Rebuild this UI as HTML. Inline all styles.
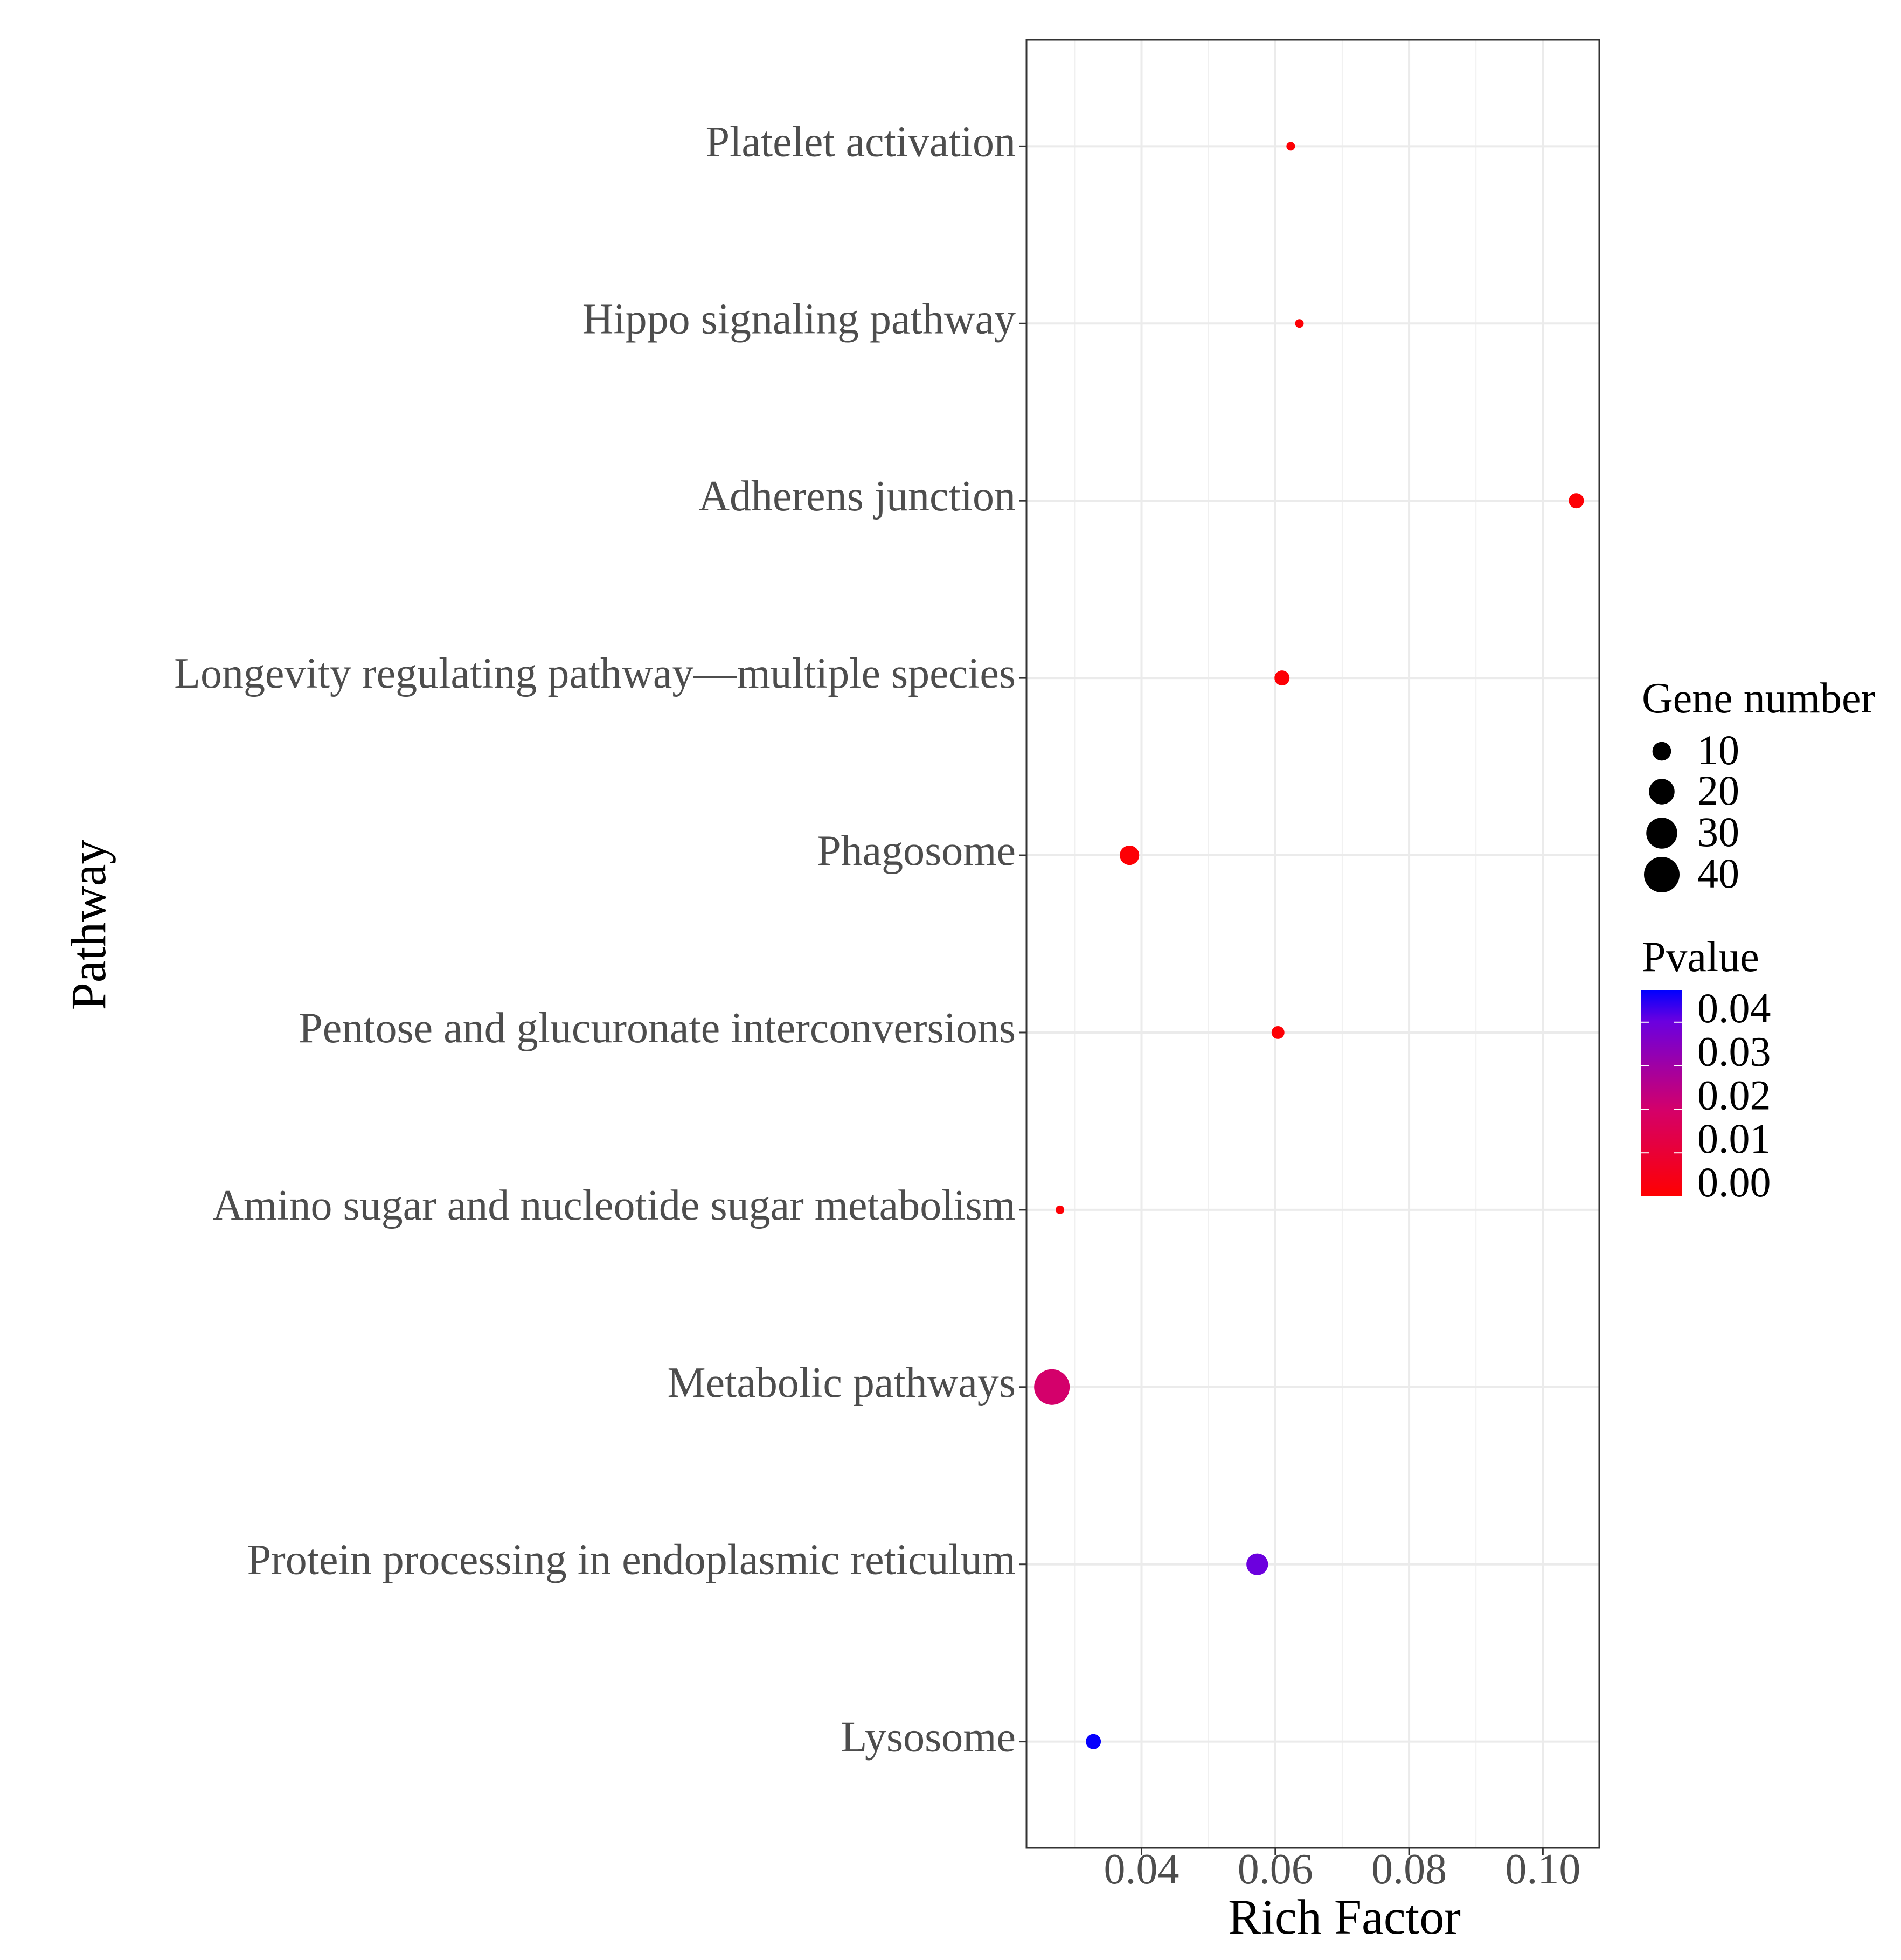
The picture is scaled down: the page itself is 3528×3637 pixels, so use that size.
<!DOCTYPE html>
<html><head><meta charset="utf-8"><style>
html,body{margin:0;padding:0;background:#fff;}
svg{display:block;font-family:"Liberation Serif",serif;}
</style></head><body>
<svg id="chart" width="3528" height="3637" viewBox="0 0 3528 3637" xmlns="http://www.w3.org/2000/svg">
<rect width="3528" height="3637" fill="#fff"/>
<g id="grid"></g>
<g id="ylabels"></g>
<g id="xlabels"></g>
<g id="points"></g>
<rect x="1905" y="74" width="1063" height="3355" fill="none" stroke="#333" stroke-width="3"/>
<text x="2495" y="3588" font-size="92" text-anchor="middle" fill="#000">Rich Factor</text>
<text transform="translate(195,1716) rotate(-90)" font-size="92" text-anchor="middle" fill="#000">Pathway</text>
<g id="legend">
<text x="3047" y="1322" font-size="80" fill="#000">Gene number</text>
<text x="3047" y="1802" font-size="80" fill="#000">Pvalue</text>
<defs><linearGradient id="pg" x1="0" y1="1" x2="0" y2="0">
<stop offset="0" stop-color="#ff0000"/><stop offset="0.42" stop-color="#d4006a"/><stop offset="0.85" stop-color="#6a00e0"/><stop offset="1" stop-color="#0000ff"/>
</linearGradient></defs>
<rect x="3046" y="1837" width="76" height="383" fill="url(#pg)"/>
</g>
</svg>
<script>
const categories = ["Lysosome","Protein processing in endoplasmic reticulum","Metabolic pathways","Amino sugar and nucleotide sugar metabolism","Pentose and glucuronate interconversions","Phagosome","Longevity regulating pathway\u2014multiple species","Adherens junction","Hippo signaling pathway","Platelet activation"];
const richFactor = [0.0328,0.0573,0.0266,0.0278,0.0604,0.0382,0.0610,0.1050,0.0636,0.0623];
const geneNumber = [6,14,40,1,4,11,6,6,1,1];
const pvalue = [0.047,0.040,0.020,0.001,0.001,0.001,0.001,0.001,0.001,0.001];
const xTicks = [0.04,0.06,0.08,0.10];
const xTickLabels = ["0.04","0.06","0.08","0.10"];
const sizeBreaks = [10,20,30,40];
const colorBreaks = [0.00,0.01,0.02,0.03,0.04];
const colorBreakLabels = ["0.00","0.01","0.02","0.03","0.04"];

const NS="http://www.w3.org/2000/svg";
const PL=1905, PR=2968, PT=74, PB=3429;
const xMin=0.0228, xMax=0.10843;
const pMin=0, pMax=0.0474;
function xs(v){return PL+(v-xMin)/(xMax-xMin)*(PR-PL);}
function yRow(i){const n=categories.length;return PT+((n-1+0.6)-i)/(n+0.2)*(PB-PT);}
function rs(n){return Math.sqrt(64+26.3*(n-1));}
function lerp(a,b,t){return Math.round(a+(b-a)*t);}
const stops=[[0,[255,0,0]],[0.42,[212,0,106]],[0.85,[106,0,224]],[1,[0,0,255]]];
function cs(p){let t=(p-pMin)/(pMax-pMin);t=Math.max(0,Math.min(1,t));
 for(let k=0;k<stops.length-1;k++){const a=stops[k],b=stops[k+1];if(t<=b[0]){const u=(t-a[0])/(b[0]-a[0]);return `rgb(${lerp(a[1][0],b[1][0],u)},${lerp(a[1][1],b[1][1],u)},${lerp(a[1][2],b[1][2],u)})`;}}
 return "rgb(0,0,255)";}
function mk(tag,attrs,parent){const e=document.createElementNS(NS,tag);for(const k in attrs)e.setAttribute(k,attrs[k]);parent.appendChild(e);return e;}

const grid=document.getElementById('grid');
for(let k=0;k<xTicks.length+1;k++){
 const v=xTicks[0]-0.01+k*0.02;
 if(v>xMin&&v<xMax){const l=mk('line',{x1:xs(v),x2:xs(v),y1:PT,y2:PB,stroke:'#f0f0f0','stroke-width':2},grid);
 
 }
}
const xl=document.getElementById('xlabels');
xTicks.forEach((v,k)=>{
 const l=mk('line',{x1:xs(v),x2:xs(v),y1:PT,y2:PB,stroke:'#ebebeb','stroke-width':4},grid);
 
 
 const t=mk('line',{x1:xs(v),x2:xs(v),y1:PB,y2:PB+14,stroke:'#333','stroke-width':3},xl);
 
 
 const tx=mk('text',{x:xs(v),y:PB+66,'font-size':80,'text-anchor':'middle',fill:'#4d4d4d'},xl);
 tx.textContent=xTickLabels[k];
 
 
});
const yl=document.getElementById('ylabels');
categories.forEach((c,i)=>{
 const y=yRow(i);
 const l=mk('line',{x1:PL,x2:PR,y1:y,y2:y,stroke:'#ebebeb','stroke-width':4},grid);
 
 
 const t=mk('line',{x1:PL-14,x2:PL,y1:y,y2:y,stroke:'#333','stroke-width':3},yl);
 
 
 const tx=mk('text',{x:PL-20,y:y+18,'font-size':80,'text-anchor':'end',fill:'#4d4d4d'},yl);
 tx.textContent=c;
 
 
});
const pts=document.getElementById('points');
categories.forEach((c,i)=>{
 const d=mk('circle',{cx:xs(richFactor[i]),cy:yRow(i),r:rs(geneNumber[i]),fill:cs(pvalue[i])},pts);
 
 
});
const lg=document.getElementById('legend');
const sizeY=[1394,1469,1546,1623];
sizeBreaks.forEach((n,k)=>{
 const d=mk('circle',{cx:3084,cy:sizeY[k],r:rs(n),fill:'#000'},lg);
 
 
 const t=mk('text',{x:3150,y:sizeY[k]+24,'font-size':78,fill:'#000'},lg);
 t.textContent=String(n);
 
 
});
function cy(p){return 2220-(p-pMin)/(pMax-pMin)*383;}
colorBreaks.forEach((p,k)=>{
 const y=cy(p);
 const a=mk('line',{x1:3046,x2:3061,y1:y,y2:y,stroke:'#fff','stroke-width':2},lg);
 
 
 const b=mk('line',{x1:3107,x2:3122,y1:y,y2:y,stroke:'#fff','stroke-width':2},lg);
 
 
 const t=mk('text',{x:3150,y:y,'font-size':78,fill:'#000'},lg);
 t.textContent=colorBreakLabels[k];
 
 
});
</script>
</body></html>
